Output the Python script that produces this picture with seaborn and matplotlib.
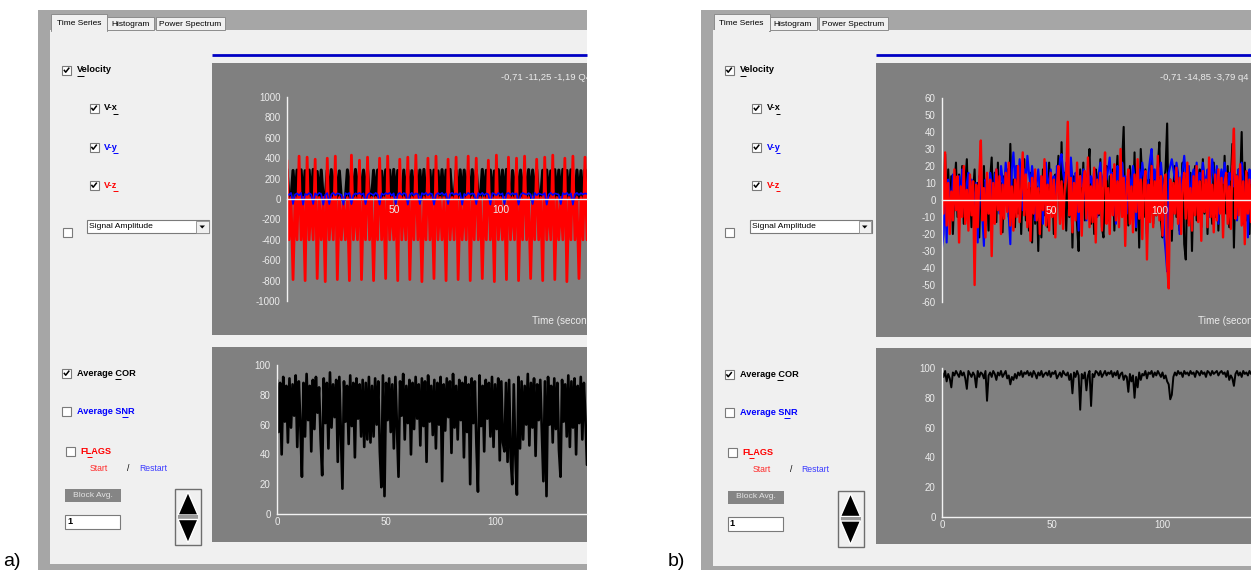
import numpy as np
import matplotlib
matplotlib.use("Agg")
import matplotlib.pyplot as plt
import seaborn as sns
from matplotlib.patches import Rectangle, Polygon
from matplotlib.ticker import MultipleLocator, FixedLocator
from matplotlib.transforms import Bbox

# ---------------- data ----------------
# panel a) velocity components
vx_a = [290, 0, 0, 280, 0, 284, 0, 286, 0, 278,
        0, 284, 0, 290, 0, 270, 0, 284, 0, 0,
        282, 0, 288, 0, 284, 0, 276, 0, 0, 0,
        286, 0, 284, 0, 290, 0, 280, 0, 284, 0,
        288, 0, 0, 282, 0, 284, 0, 274, 0, 286,
        0, 284, 0, 290, 0, 280, 0, 0, 284, 0,
        286, 0, 278, 0, 288, 0, 284, 0, 290, 0,
        0, 282, 0, 284, 0, 276, 0, 288, 0, 284,
        0, 290, 0, 0, 280, 0, 286, 0, 284, 0,
        278, 0, 288, 0, 284, 0, 0, 290, 0, 282,
        0, 284, 0, 276, 0, 288, 0, 284, 0, 290,
        0, 0, 280, 0, 286, 0, 284, 0, 278, 0,
        288, 0, 284, 0, 290, 0, 0, 282, 0, 284,
        0, 276, 0, 288, 0, 284, 0, 290, 0, 280,
        0, 286, 0, 0, 284, 0, 278, 0, 288, 0]
vy_a = [50, 40, 60, -50, 45, 55, 35, 60, -55, 50,
        40, 58, 45, -50, 55, 38, 60, 48, -55, 42,
        58, -50, 45, 60, 36, 55, 50, 40, -55, 58,
        45, 60, -50, 38, 55, 48, 60, 42, 55, -50,
        40, 58, 50, 36, 60, 45, -55, 55, 40, 58,
        48, 60, 35, 55, -50, 45, 60, 40, 58, 50,
        -55, 42, 60, 38, 55, 48, -50, 58, 45, 60,
        36, 55, 50, -55, 40, 58, 45, 60, 38, 55,
        -50, 48, 60, 42, 55, 40, 58, -55, 50, 36,
        60, 45, 55, 48, -50, 58, 40, 60, 38, 55,
        45, -55, 58, 50, 36, 60, 42, 55, -50, 48,
        60, 40, 58, 45, 55, -55, 38, 60, 50, 42,
        58, 45, -50, 60, 36, 55, 48, 40, 58, -55,
        45, 60, 38, 55, 50, 42, -50, 58, 45, 60,
        36, 55, -55, 48, 60, 40, 58, 45, 55, 50]
vz_a = [380, -400, 15, -790, 15, -400, 420, -400, 15, -800,
        410, -400, 15, -400, 390, -780, 15, -400, 15, -810,
        400, -400, 15, -400, 420, -790, 15, -400, 15, -400,
        15, -800, 430, -400, 15, -400, 380, -790, 15, -400,
        410, -400, 15, -800, 15, -400, 400, -400, 15, -780,
        420, -400, 15, -400, 15, -800, 390, -400, 15, -400,
        410, -790, 15, -400, 430, -400, 15, -810, 15, -400,
        400, -400, 15, -780, 420, -400, 15, -400, 15, -800,
        390, -400, 15, -400, 410, -790, 15, -400, 15, -400,
        420, -800, 15, -400, 400, -400, 15, -780, 15, -400,
        380, -400, 15, -810, 430, -400, 15, -400, 15, -790,
        410, -400, 15, -400, 400, -800, 15, -400, 420, -400,
        15, -780, 15, -400, 390, -400, 15, -800, 410, -400,
        15, -400, 430, -790, 15, -400, 15, -400, 400, -810,
        15, -400, 420, -400, 15, -780, 15, -400, 410, -400]
cor_a = [90, 55, 88, 40, 92, 62, 86, 48, 91, 58,
         87, 66, 93, 45, 89, 60, 25, 88, 52, 94,
         63, 86, 42, 90, 57, 92, 68, 85, 50, 26,
         91, 61, 88, 44, 95, 58, 87, 65, 90, 35,
         92, 55, 17, 89, 62, 86, 47, 93, 59, 88,
         38, 91, 64, 87, 52, 90, 45, 88, 50, 92,
         48, 86, 52, 91, 60, 89, 42, 18, 93, 12,
         88, 63, 91, 55, 87, 44, 92, 58, 25, 89,
         66, 94, 50, 86, 61, 90, 40, 88, 57, 92,
         64, 87, 46, 91, 59, 89, 35, 93, 62, 86,
         53, 90, 44, 88, 60, 92, 22, 87, 56, 91,
         65, 89, 41, 94, 58, 86, 50, 90, 63, 88,
         38, 92, 55, 87, 20, 91, 61, 89, 47, 15,
         93, 59, 86, 42, 90, 64, 88, 52, 92, 45,
         87, 57, 91, 36, 89, 48, 42, 88, 35, 90,
         38, 20, 87, 40, 13, 92, 44, 89, 50, 86,
         60, 94, 46, 88, 58, 91, 39, 87, 63, 90,
         55, 22, 89, 12, 92, 60, 86, 48, 91, 57,
         88, 43, 25, 90, 62, 87, 52, 93, 45, 89,
         58, 91, 40, 86, 61, 92, 50, 88, 64, 33]

# panel b) velocity components
vx_b = [10, -5, 27, -12, 18, -8, 14, -20, 6, 22,
        -10, 15, -6, 20, -14, 9, 24, -8, 12, -16,
        5, 18, -12, 10, -22, 14, -7, 20, -15, 8,
        -18, 12, 25, -9, 16, -13, 22, -6, 10, -19,
        14, 7, 18, -10, 33, -4, 12, -16, 20, -8,
        15, -20, 9, 24, -12, 6, -18, 16, -25, 10,
        -14, 8, -30, 12, -22, 18, -9, 14, -16, 22,
        -6, 10, -20, 15, 8, 26, -12, 34, -8, 16,
        -18, 12, -10, 20, -28, 14, 6, -15, -30, 18,
        -8, 22, -12, 10, 16, 30, -14, 8, -20, 18,
        12, -9, 24, -16, -22, 10, 20, -12, 14, -6,
        18, -18, 9, 26, -10, 15, 22, 43, -8, 12,
        -15, 20, 8, -12, 28, -18, 14, -28, 30, 10,
        -10, 18, -20, 12, 6, 24, -14, 16, -9, 20,
        34, -12, -22, 10, 18, 45, -16, 12, -24, 8,
        20, -10, 14, -18, 6, 22, -26, -35, 12, -14,
        16, -30, 10, 20, -12, 8, 18, -16, 24, -8,
        12, -20, 15, 6, -14, 22, -10, 18, -18, 9,
        14, -12, 26, -8, 20, -16, 10, 33, -28, 15,
        -10, 18, 8, 40, -14, 22, -12, 16, -20, 12]
vy_b = [-28, -20, 8, -25, 12, 5, -10, 15, 8, -6,
        10, 14, -8, 18, 6, -12, 10, 16, -5, 12,
        8, -14, 10, -25, 14, 6, -10, -27, 12, 8,
        -6, 16, 10, -12, 14, 18, 8, -8, 20, 12,
        6, 22, 14, -10, -26, 18, 28, 12, 20, 8,
        24, 14, -6, 18, 10, 26, 16, 8, 20, 12,
        -12, 10, 18, 6, 14, -14, 16, 22, 8, 12,
        18, 6, 14, -10, 20, 12, 24, 27, 16, 10,
        22, 14, 8, 25, 12, -8, 16, 10, -18, 14,
        8, 18, 12, -12, 20, 10, 14, 6, 18, 12,
        -10, 16, 22, 8, 14, 20, 12, 18, 25, 10,
        16, 8, -14, 20, 12, 18, 22, 10, 14, -8,
        18, 12, 6, 20, 14, -16, 10, 18, 8, 22,
        14, 10, -22, 16, 24, 30, 12, 18, 8, 20,
        14, 22, 10, -20, -30, -42, 16, 20, 24, 18,
        12, 22, 16, -20, 10, 18, 26, 14, 8, 20,
        -12, 14, 18, 10, 22, 8, 16, 12, 22, 14,
        10, 18, -10, 12, 24, 16, 8, 20, -14, 12,
        18, 10, 22, 14, -8, 16, 12, 20, 8, 14,
        -12, 18, 10, 22, 14, -16, 12, -22, 18, 10]
vz_b = [12, -8, 28, -15, 10, -20, 5, -12, 18, -6,
        14, -25, 8, -10, 20, -14, 6, -18, 15, -9,
        11, -50, 9, -16, 13, 35, -12, 7, -22, 16,
        -8, 12, -33, 10, -14, 18, -6, 14, -20, 9,
        -11, 16, -7, 22, -15, 8, -18, 12, -10, 20,
        -13, 6, 28, -9, 15, -16, 10, -24, 13, -8,
        18, -12, 7, -20, 14, -6, 24, -15, 9, -18,
        16, -10, 12, -22, 8, 20, -14, 11, -17, 6,
        15, 46, -9, 13, -19, 10, -12, 22, -7, 14,
        -21, 9, 17, -11, 25, -16, 8, -13, 19, -25,
        12, -8, 16, -18, 10, 28, -14, 7, -20, 15,
        -9, 21, -12, 11, -16, 30, -10, 13, -27, 9,
        18, -14, 8, -19, 15, -7, 24, -11, 12, -23,
        10, 17, -35, 9, -13, 20, -16, 11, -9, 26,
        -12, 14, -21, 8, 15, -38, -52, 12, -17, 10,
        -8, 19, -14, 13, -20, 9, 16, -11, 22, -15,
        7, -18, 14, -9, 20, -13, 11, -24, 17, -7,
        12, -16, 25, -10, 9, -19, 15, -12, 18, -8,
        13, -22, 10, 16, -14, 8, -17, 20, 42, -11,
        14, -9, 21, -15, 11, -26, 17, -8, 12, -13]
cor_b = [97, 94, 98, 91, 96, 93, 87, 97, 95, 98,
         96, 94, 98, 95, 97, 93, 86, 98, 96, 94,
         97, 95, 87, 98, 94, 97, 96, 93, 98, 78,
         95, 97, 94, 98, 96, 92, 97, 95, 98, 94,
         96, 98, 93, 95, 89, 94, 92, 96, 93, 97,
         95, 98, 94, 97, 96, 98, 95, 97, 94, 98,
         96, 93, 97, 95, 98, 94, 96, 97, 95, 98,
         94, 97, 96, 98, 93, 95, 97, 94, 98, 96,
         95, 97, 92, 96, 83, 97, 94, 98, 95, 72,
         96, 93, 97, 85, 95, 98, 74.5, 96, 94, 98,
         97, 95, 98, 94, 96, 98, 95, 97, 96, 98,
         94, 97, 95, 98, 93, 96, 97, 92, 95, 94,
         84, 96, 91, 95, 80, 94, 87, 97, 92, 96,
         95, 98, 93, 97, 96, 98, 94, 97, 95, 98,
         96, 94, 97, 93, 95, 91, 89, 79, 82, 94,
         97, 95, 98, 96, 97, 94, 98, 96, 97, 95,
         98, 96, 97, 94, 98, 97, 95, 98, 96, 97,
         94, 98, 97, 95, 98, 96, 97, 98, 95, 97,
         98, 96, 97, 94, 98, 92, 95, 93, 88, 96,
         98, 95, 97, 94, 98, 96, 97, 95, 98, 96]

# visible record lengths (seconds) of each plot window
tmax_a_top, tmax_a_cor = 140.2, 142.2
tmax_b_top, tmax_b_cor = 141.7, 140.5

stats_a = "-0,71 -11,25 -1,19 Q4"
stats_b = "-0,71 -14,85 -3,79 q4"
time_title_a = "Time (seconds)"
time_title_b = "Time (secon"
tab_labels = ["Time Series", "Histogram", "Power Spectrum"]

# ---------------- figure ----------------
sns.set_theme(style="white")
plt.rcParams['font.family'] = ['Liberation Sans', 'DejaVu Sans']
plt.rcParams['axes.unicode_minus'] = False

W, H = 1251, 573
fig = plt.figure(figsize=(W / 100, H / 100), dpi=100)
fig.patch.set_facecolor('white')
bg = fig.add_axes([0, 0, 1, 1])
bg.set_xlim(0, W)
bg.set_ylim(H, 0)
bg.axis('off')

LIGHT = '#f0f0f0'
FRAME = '#a6a6a6'
PLOT = '#808080'
TXT = '#ececec'


def rect(x0, y0, x1, y1, fc, ec='none', lw=0.0, z=1):
    p = Rectangle((x0, y0), x1 - x0, y1 - y0, facecolor=fc, edgecolor=ec,
                  linewidth=lw, zorder=z)
    bg.add_patch(p)
    return p


def checkbox(cx, cy, checked):
    rect(cx - 4.5, cy - 4.5, cx + 4.5, cy + 4.5, 'white', '#7a7a7a', 0.8, z=3)
    if checked:
        bg.plot([cx - 2.6, cx - 0.8, cx + 2.8], [cy - 0.2, cy + 2.2, cy - 2.4],
                color='black', lw=1.1, zorder=4, solid_capstyle='butt')


def label(x, y, s, color='black', bold=False, size=6.6, ha='left', clip_right=None, z=5):
    t = bg.text(x, y, s, color=color, fontsize=size, ha=ha, va='center',
                fontweight='bold' if bold else 'normal', zorder=z)
    if clip_right is not None:
        t.set_clip_on(True)
        t.set_clip_box(Bbox.from_extents(0, 0, clip_right, H))
    return t


def underline(x0, x1, y, color):
    bg.plot([x0, x1], [y, y], color=color, lw=0.7, zorder=5, solid_capstyle='butt')


def window(ox, right, top_box, bot_box, dyb, stats, stat_x, time_title, time_x):
    rect(38 + ox, 10, right, 570, FRAME, z=0)
    rect(50 + ox, 30, right, 564 + dyb, LIGHT, z=0.5)
    # tabs
    tabs = [(51, 107, 14), (107, 154, 17), (156, 225, 17)]
    for (x0, x1, y0), s in zip(tabs, tab_labels):
        rect(x0 + ox, y0, x1 + ox, 31 if y0 == 14 else 30, LIGHT, '#8c8c8c', 0.7, z=1)
        label((x0 + x1) / 2 + ox, 23.5 if y0 == 14 else 24.5, s, size=6.0, ha='center')
    rect(51.5 + ox, 29.5, 106.5 + ox, 32, LIGHT, z=1.5)
    # blue rule and plot boxes
    bg.plot([top_box[0], right], [55, 55], color='#0000c4', lw=2.0, zorder=2,
            solid_capstyle='butt')
    rect(top_box[0], top_box[1], right, top_box[2], PLOT, z=1)
    rect(bot_box[0], bot_box[1], right, bot_box[2], PLOT, z=1)
    label(stat_x, 78, stats, color=TXT, size=6.8, clip_right=right)
    label(time_x, 320.5, time_title, color=TXT, size=7.2, clip_right=right)
    # velocity controls
    checkbox(66.5 + ox, 70, True)
    label(77 + ox, 70, "Velocity", bold=True)
    underline(77 + ox, 83.5 + ox, 75.5, 'black')
    for yy, name, col in [(108, "V-x", 'black'), (147, "V-y", '#0000ff'), (185, "V-z", '#ff0000')]:
        checkbox(94 + ox, yy, True)
        label(104 + ox, yy, name, color=col, bold=True)
        underline(113 + ox, 117.5 + ox, yy + 5.5, col)
    checkbox(67 + ox, 232, False)
    rect(87 + ox, 220, 209 + ox, 233, 'white', '#7a7a7a', 0.8, z=2)
    rect(196 + ox, 221, 208.5 + ox, 232.5, LIGHT, '#8c8c8c', 0.6, z=3)
    bg.add_patch(Polygon([(199.5 + ox, 225.5), (205 + ox, 225.5), (202.2 + ox, 228.5)],
                         closed=True, facecolor='black', edgecolor='none', zorder=4))
    label(89 + ox, 226.5, "Signal Amplitude", size=6.1)
    # lower controls
    checkbox(66.5 + ox, 373 + dyb, True)
    label(77 + ox, 373 + dyb, "Average COR", bold=True)
    underline(114.5 + ox, 120.5 + ox, 378.5 + dyb, 'black')
    checkbox(66.5 + ox, 411 + dyb, False)
    label(77 + ox, 411 + dyb, "Average SNR", color='#0000ff', bold=True)
    underline(121.5 + ox, 127.5 + ox, 416.5 + dyb, '#0000ff')
    checkbox(70 + ox, 451 + dyb, False)
    label(80 + ox, 451 + dyb, "FLAGS", color='#ff0000', bold=True)
    underline(86.5 + ox, 91.5 + ox, 456.5 + dyb, '#ff0000')
    label(90 + ox, 468.5 + dyb, "Start", color='#ff2a2a', size=6.2)
    label(127 + ox, 468.5 + dyb, "/", size=6.2)
    label(139 + ox, 468.5 + dyb, "Restart", color='#3a3aff', size=6.2)
    rect(65 + ox, 489 + dyb, 121 + ox, 502 + dyb, '#858585', z=2)
    label(93 + ox, 495.5 + dyb, "Block Avg.", color='#e4e4e4', size=6.1, ha='center')
    rect(65 + ox, 515 + dyb, 120 + ox, 529 + dyb, 'white', '#7a7a7a', 0.8, z=2)
    label(67 + ox, 522 + dyb, "1", bold=True, size=6.6)
    rect(175 + ox, 489 + dyb, 201 + ox, 545 + dyb, LIGHT, '#6e6e6e', 1.0, z=2)
    bg.add_patch(Polygon([(188 + ox, 492 + dyb), (178 + ox, 515 + dyb), (198 + ox, 515 + dyb)],
                         closed=True, facecolor='black', zorder=3))
    rect(178 + ox, 515 + dyb, 198 + ox, 519.5 + dyb, '#9a9a9a', z=3)
    bg.add_patch(Polygon([(178 + ox, 519.5 + dyb), (198 + ox, 519.5 + dyb), (188 + ox, 543 + dyb)],
                         closed=True, facecolor='black', zorder=3))


window(0, 587, (212, 63, 335), (212, 347, 542), 0, stats_a, 501, time_title_a, 532)
window(662.5, W, (876, 63, 337), (876, 348, 544), 1.5, stats_b, 1160, time_title_b, 1198)

bg.text(3, 561, "a)", fontsize=14, color='black', va='center', ha='left')
bg.text(668, 561, "b)", fontsize=14, color='black', va='center', ha='left')


def data_axes(x0, x1, ytop, ybot):
    ax = fig.add_axes([x0 / W, 1 - ybot / H, (x1 - x0) / W, (ybot - ytop) / H])
    ax.set_facecolor('none')
    for s in ['top', 'right']:
        ax.spines[s].set_visible(False)
    for s in ['left', 'bottom']:
        ax.spines[s].set_color('#f2f2f2')
        ax.spines[s].set_linewidth(1.0)
        ax.spines[s].set_zorder(3)
    ax.tick_params(colors='#f2f2f2', labelcolor=TXT, labelsize=7.0, width=0.8)
    return ax


def draw_series(ax, t, ys, colors, lws):
    for y, c, lw in zip(ys, colors, lws):
        sns.lineplot(x=t, y=y, ax=ax, color=c, linewidth=lw, estimator=None,
                     sort=False, legend=False)
    ax.set_xlabel('')
    ax.set_ylabel('')


def velocity_axes(ax, tmax, lim, step):
    ax.set_xlim(0, tmax)
    ax.set_ylim(-lim, lim)
    ax.spines['bottom'].set_position(('data', 0))
    ax.xaxis.set_major_locator(FixedLocator([50, 100, 150]))
    ax.xaxis.set_minor_locator(MultipleLocator(10))
    ax.tick_params(axis='x', which='major', direction='inout', length=6, pad=1,
                   labelsize=7.4)
    ax.tick_params(axis='x', which='minor', direction='inout', length=3.5)
    ax.yaxis.set_major_locator(MultipleLocator(step))
    ax.tick_params(axis='y', which='major', direction='out', length=3, pad=1.5)
    ax.xaxis.set_zorder(4)


def cor_axes(ax, tmax, yminor):
    ax.set_xlim(0, tmax)
    ax.set_ylim(0, 100)
    ax.xaxis.set_major_locator(FixedLocator([0, 50, 100, 150]))
    ax.xaxis.set_minor_locator(MultipleLocator(10))
    ax.tick_params(axis='x', which='major', direction='in', length=5, pad=2)
    ax.tick_params(axis='x', which='minor', direction='in', length=3)
    ax.yaxis.set_major_locator(MultipleLocator(20))
    if yminor:
        ax.yaxis.set_minor_locator(MultipleLocator(10))
        ax.tick_params(axis='y', which='minor', direction='in', length=2.5)
    ax.tick_params(axis='y', which='major', direction='out', length=3, pad=1.5)


# panel a) top: velocities
ax = data_axes(287, 587, 97, 301)
t = np.linspace(0, tmax_a_top, len(vx_a))
draw_series(ax, t, [vx_a, vz_a, vy_a], ['black', '#ff0000', '#0000ff'], [2.2, 2.0, 1.2])
velocity_axes(ax, tmax_a_top, 1000, 200)

# panel a) bottom: correlation
ax = data_axes(277, 587, 365, 514)
t = np.linspace(0, tmax_a_cor, len(cor_a))
draw_series(ax, t, [cor_a], ['black'], [1.9])
cor_axes(ax, tmax_a_cor, False)

# panel b) top: velocities
ax = data_axes(942, W, 98, 302)
t = np.linspace(0, tmax_b_top, len(vx_b))
draw_series(ax, t, [vx_b, vy_b, vz_b], ['black', '#0000ff', '#ff0000'], [1.5, 1.5, 1.7])
velocity_axes(ax, tmax_b_top, 60, 10)

# panel b) bottom: correlation
ax = data_axes(942, W, 368, 517)
t = np.linspace(0, tmax_b_cor, len(cor_b))
draw_series(ax, t, [cor_b], ['black'], [1.4])
cor_axes(ax, tmax_b_cor, True)

fig.savefig('out.png', dpi=100, facecolor='white')
